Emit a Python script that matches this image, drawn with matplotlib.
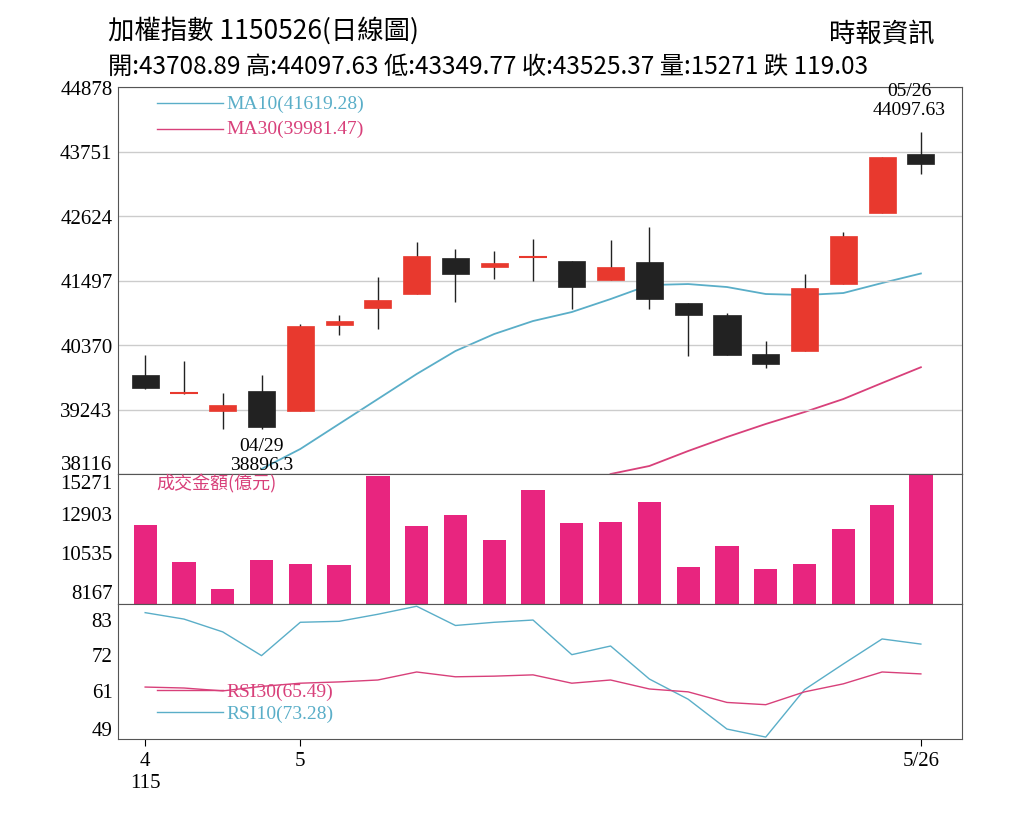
import matplotlib
matplotlib.use("Agg")
import matplotlib.pyplot as plt
import numpy as np

plt.rcParams['font.family'] = ['Noto Sans CJK TC', 'DejaVu Sans']

opens  = [39846,39531,39216,39566,39216,40719,41016,41261,41889,41732,41907,41837,41505,41820,41104,40894,40212,40265,41435,42675,43708.89]
closes = [39618,39531,39321,38937,40702,40789,41156,41924,41610,41802,41925,41383,41732,41173,40894,40195,40038,41365,42274,43654,43525.37]
highs  = [40195,40090,39531,39846,40736,40894,41558,42169,42047,42012,42222,41837,42204,42431,41104,40929,40440,41610,42344,43654,44097.63]
lows   = [39600,39520,38902,38896.3,39216,40544,40649,41261,41121,41523,41488,40999,41505,40999,40177,40195,39968,40265,41435,42675,43349.77]
ma10 = [np.nan]*3 + [38203,38553,38990,39426,39863,40265,40562,40789,40946,41173,41418,41435,41383,41261,41243,41278,41453,41619.28]
ma30 = [np.nan]*12 + [38116,38256,38518,38762,38990,39199,39426,39706,39981.47]
volume = [12156,9913,8293,10038,9851,9789,15146,12094,12779,11284,14274,12281,12343,13589,9664,10910,9540,9851,11969,13402,15271]
rsi10 = [85,83,79,71.6,82,82.3,84.5,87,81,82,82.7,71.9,74.6,64.3,58,48.7,46.2,61,69,76.8,75.2]
rsi30 = [61.8,61.5,60.6,62,63,63.4,64,66.5,65,65.2,65.6,63,64,61.2,60.3,57,56.3,60.3,62.8,66.5,65.9]
price_ticks = [38116,39243,40370,41497,42624,43751,44878]
vol_ticks = [8167,10535,12903,15271]
rsi_ticks = [49,61,72,83]

RED = '#e8392e'; BLACK = '#222222'; BLUE = '#5aaec8'; PINK = '#d8407a'; MAG = '#e8257f'
SERIF = ['Liberation Serif']
x = np.arange(len(opens))
fig = plt.figure(figsize=(10.24, 8.2), dpi=100)
L, W = 118/1024, (962-118)/1024
def fy(p): return 1 - p/820
ax1 = fig.add_axes([L, fy(475), W, fy(88)-fy(475)])
ax2 = fig.add_axes([L, fy(605), W, fy(475)-fy(605)], sharex=ax1)
ax3 = fig.add_axes([L, fy(740), W, fy(605)-fy(740)], sharex=ax1)

for i in x:
    o, c, h, l = opens[i], closes[i], highs[i], lows[i]
    col = RED if c >= o else BLACK
    ax1.vlines(i, l, h, color=BLACK, lw=1, zorder=2)
    lo, hi = min(o, c), max(o, c)
    if hi - lo < 20:
        ax1.hlines(o, i-0.35, i+0.35, color=col, lw=1.5, zorder=3)
    else:
        ax1.bar(i, hi-lo, bottom=lo, width=0.7, color=col, edgecolor=col, lw=0.5, zorder=3)
ax1.plot(x, ma10, color=BLUE, lw=1.3, zorder=1)
ax1.plot(x, ma30, color=PINK, lw=1.3, zorder=1)
ax1.set_ylim(38116, 44878)
ax1.set_yticks(price_ticks)
ax1.set_yticklabels([str(v) for v in price_ticks])
ax1.set_xlim(-0.7, 21.06)
ax1.grid(axis='y', color='#cccccc', lw=1)
ax1.plot([0.3, 2.0], [44600, 44600], color=BLUE, lw=1, clip_on=False)
ax1.text(2.1, 44600, 'MA10(41619.28)', color=BLUE, va='center', fontsize=14, family=SERIF)
ax1.plot([0.3, 2.0], [44150, 44150], color=PINK, lw=1, clip_on=False)
ax1.text(2.1, 44150, 'MA30(39981.47)', color=PINK, va='center', fontsize=14, family=SERIF)
ax1.text(3.0, 38450, '04/29\n38896.3', ha='center', va='center', fontsize=14, family=SERIF, linespacing=1.1)
ax1.text(19.7, 44650, '05/26\n44097.63', ha='center', va='center', fontsize=14, family=SERIF, linespacing=1.1)

ax2.bar(x, volume, width=0.6, color=MAG, bottom=0)
ax2.set_ylim(7400, 15271)
ax2.set_yticks(vol_ticks)
ax2.set_yticklabels([str(v) for v in vol_ticks])
ax2.text(0.3, 14750, '成交金額(億元)', color=PINK, fontsize=13, va='center')

ax3.plot(x, rsi10, color=BLUE, lw=1)
ax3.plot(x, rsi30, color=PINK, lw=1)
ax3.set_ylim(45.6, 87.7)
ax3.set_yticks(rsi_ticks)
ax3.plot([0.3, 2.0], [61, 61], color=PINK, lw=1)
ax3.text(2.1, 60.5, 'RSI30(65.49)', color=PINK, va='center', fontsize=14, family=SERIF)
ax3.plot([0.3, 2.0], [54, 54], color=BLUE, lw=1)
ax3.text(2.1, 53.5, 'RSI10(73.28)', color=BLUE, va='center', fontsize=14, family=SERIF)
ax3.set_xticks([0, 4, 20])
ax3.set_xticklabels(['4\n115', '5', '5/26'], fontsize=15, family=SERIF)

for a in (ax1, ax2, ax3):
    for s in a.spines.values():
        s.set_color('#555555')
    a.tick_params(axis='y', length=0, labelsize=15, pad=4)
    for t in a.get_yticklabels():
        t.set_family(SERIF)
for a in (ax1, ax2):
    a.tick_params(axis='x', length=0, labelbottom=False)
ax3.tick_params(axis='x', length=5, direction='out')
# avoid overlap at the panel boundary
ax1.get_yticklabels()[0].set_va('bottom')
ax2.get_yticklabels()[-1].set_va('top')

fig.text(0.105, 0.963, '加權指數 1150526(日線圖)', fontsize=19, va='center')
fig.text(0.81, 0.958, '時報資訊', fontsize=19, va='center')
fig.text(0.105, 0.918, '開:43708.89 高:44097.63 低:43349.77 收:43525.37 量:15271 跌 119.03', fontsize=17.5, va='center')
fig.savefig('out.png', dpi=100)
